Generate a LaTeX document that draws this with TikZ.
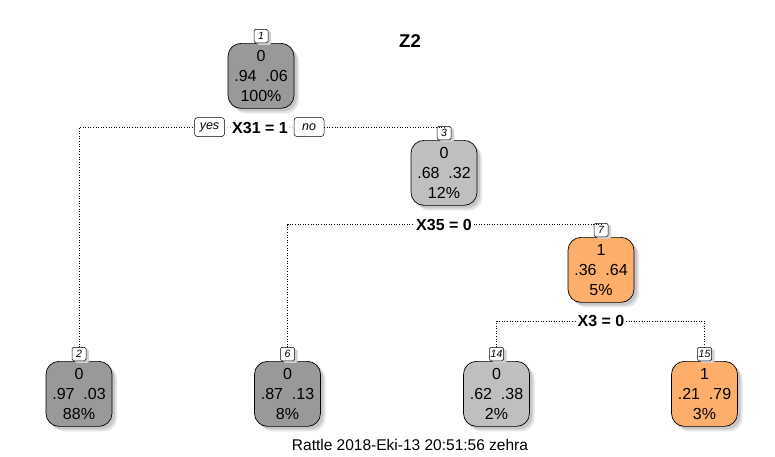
\documentclass[tikz,border=0pt]{standalone}
\usepackage{fontspec}
\setmainfont{Liberation Sans}
\usetikzlibrary{shadows}
\definecolor{dgray}{RGB}{153,153,153}
\definecolor{lgray}{RGB}{191,191,191}
\definecolor{orng}{RGB}{253,174,107}
\begin{document}
\begin{tikzpicture}[x=1pt,y=-1pt,
 body/.style={draw=black, line width=0.7pt, rounded corners=13pt, minimum width=66pt, minimum height=65pt, inner sep=0pt, anchor=north, align=center, font=\fontsize{16}{20}\selectfont,
   general shadow={fill=black!10, shadow xshift=5pt, shadow yshift=-5pt},
   general shadow={fill=black!22, shadow xshift=3pt, shadow yshift=-3pt}},
 numbox/.style={draw=black, line width=0.5pt, fill=white, rounded corners=1.5pt, minimum width=14pt, minimum height=13.5pt, inner sep=1pt, anchor=south, font=\itshape\fontsize{10.5}{10.5}\selectfont,
   general shadow={fill=black!18, shadow xshift=3pt, shadow yshift=-2pt}},
 split/.style={fill=white, inner sep=1.5pt, font=\bfseries\fontsize{16}{16}\selectfont},
 yn/.style={draw=black, line width=0.5pt, fill=white, rounded corners=3pt, minimum width=30pt, minimum height=19pt, inner sep=1pt, font=\itshape\fontsize{12.5}{12.5}\selectfont},
 conn/.style={dotted, line width=0.6pt}]
\useasboundingbox (0,0) rectangle (775,456);

% nodes
\node[body, fill=dgray] (b1) at (261,43) {0\\.94~~.06\\100\%};
\node[numbox] (l1) at (261,43) {1};
\node[body, fill=lgray] (b3) at (444,140) {0\\.68~~.32\\12\%};
\node[numbox] (l3) at (444,140) {3};
\node[body, fill=orng] (b7) at (601,237) {1\\.36~~.64\\5\%};
\node[numbox] (l7) at (601,237) {7};
\node[body, fill=dgray] (b2) at (79,361) {0\\.97~~.03\\88\%};
\node[numbox] (l2) at (79,361) {2};
\node[body, fill=dgray] (b6) at (287.5,361) {0\\.87~~.13\\8\%};
\node[numbox] (l6) at (287.5,361) {6};
\node[body, fill=lgray] (b14) at (496.5,361) {0\\.62~~.38\\2\%};
\node[numbox] (l14) at (496.5,361) {14};
\node[body, fill=orng] (b15) at (704.5,361) {1\\.21~~.79\\3\%};
\node[numbox] (l15) at (704.5,361) {15};

% split labels
\node[split] (s1) at (260,127.5) {X31 = 1};
\node[yn] (yes) at (209.5,127) {yes};
\node[yn] (no) at (309,127) {no};
\node[split] (s2) at (444,224.5) {X35 = 0};
\node[split] (s3) at (601,321) {X3 = 0};

% connectors
\draw[conn] (l2.north) |- (yes.west);
\draw[conn] (yes) -- (s1);
\draw[conn] (s1) -- (no);
\draw[conn] (no.east) -| (l3.north);
\draw[conn] (l6.north) |- (s2.west);
\draw[conn] (s2.east) -| (l7.north);
\draw[conn] (l14.north) |- (s3.west);
\draw[conn] (s3.east) -| (l15.north);

% title and footer
\node (title) at (410,41) {\bfseries\fontsize{18.5}{18.5}\selectfont Z2};
\node (footer) at (410,445) {\fontsize{15.5}{16}\selectfont Rattle 2018-Eki-13 20:51:56 zehra};
\end{tikzpicture}
\end{document}
